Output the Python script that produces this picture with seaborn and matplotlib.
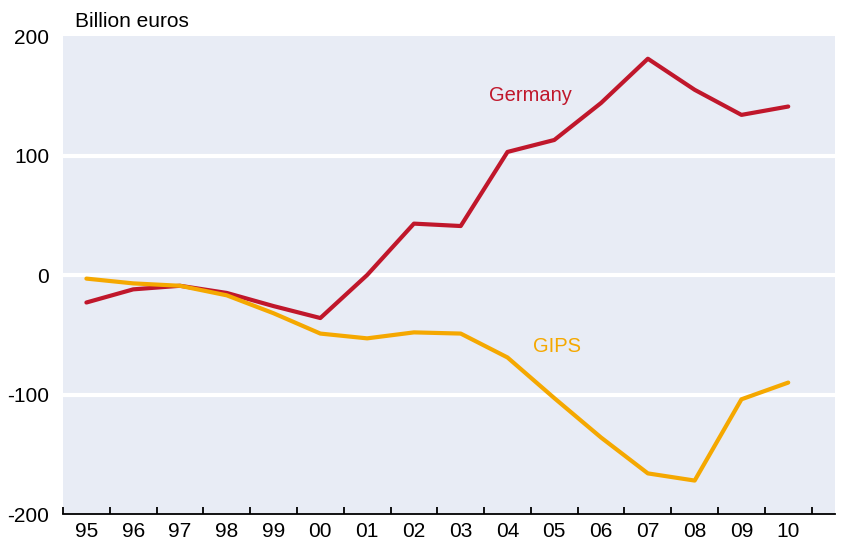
import pandas as pd
import seaborn as sns
import matplotlib.pyplot as plt

years = ['95', '96', '97', '98', '99', '00', '01', '02', '03', '04', '05', '06', '07', '08', '09', '10']
germany = [-23, -12, -9, -15, -26, -36, 0, 43, 41, 103, 113, 144, 181, 155, 134, 141]
gips = [-3, -7, -9, -17, -32, -49, -53, -48, -49, -69, -103, -136, -166, -172, -104, -90]

df = pd.DataFrame({
    'x': list(range(len(years))) * 2,
    'value': germany + gips,
    'series': ['Germany'] * len(years) + ['GIPS'] * len(years),
})

sns.set_style('white')
plt.rcParams['font.family'] = ['Liberation Sans', 'DejaVu Sans']
plt.rcParams['text.color'] = 'black'
plt.rcParams['xtick.color'] = 'black'
plt.rcParams['ytick.color'] = 'black'
plt.rcParams['xtick.direction'] = 'in'

fig = plt.figure(figsize=(8.48, 5.44), dpi=100)
ax = fig.add_axes([0.0743, 0.0551, 0.9104, 0.8787])
ax.set_facecolor('#e8ecf5')

colors = {'Germany': '#c0172b', 'GIPS': '#f5a800'}
sns.lineplot(data=df, x='x', y='value', hue='series', palette=colors,
             linewidth=3.0, legend=False, ax=ax, zorder=3)

ax.set_ylim(-200, 200)
ax.set_xlim(-0.5, 16.0)
ax.set_yticks([-200, -100, 0, 100, 200])
ax.set_yticklabels(['-200', '-100', '0', '100', '200'])
for y in [-100, 0, 100]:
    ax.axhline(y, color='white', linewidth=3, zorder=1)

ax.set_xticks(range(len(years)))
ax.set_xticklabels(years)
ax.set_xticks([i - 0.5 for i in range(len(years) + 1)], minor=True)
ax.tick_params(axis='x', which='major', bottom=True, length=0, labelsize=15, pad=6)
ax.tick_params(axis='x', which='minor', bottom=True, length=5, width=1.3,
               color='black', direction='in')
ax.tick_params(axis='y', length=0, labelsize=15, pad=10)

for s in ['top', 'right', 'left']:
    ax.spines[s].set_visible(False)
ax.spines['bottom'].set_color('black')
ax.spines['bottom'].set_linewidth(1.3)

ax.set_xlabel('')
ax.set_ylabel('')
ax.text(9.5, 150, 'Germany', color='#c0172b', fontsize=14.5, ha='center', va='center')
ax.text(10.05, -60, 'GIPS', color='#f5a800', fontsize=14.5, ha='center', va='center')
fig.text(0.088, 0.96, 'Billion euros', fontsize=15, ha='left', va='center')

fig.savefig('out.png', dpi=100)
